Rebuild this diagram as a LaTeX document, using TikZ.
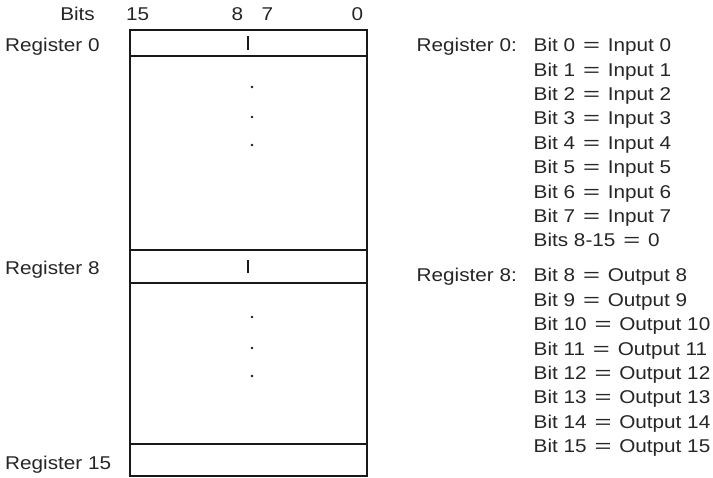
\documentclass[tikz,border=0pt]{standalone}
\usepackage{fontspec}
\usepackage{graphicx}
\setmainfont{Liberation Sans}
% slightly widened sans text
\newcommand{\wide}[1]{\scalebox{1.12}[1]{#1}}
\newcommand{\eqsign}{\hspace{7pt}\scalebox{1.4}[1]{=}\hspace{7pt}}
\begin{document}
\begin{tikzpicture}[x=1pt,y=-1pt,
  txt/.style={inner sep=0pt,font=\fontsize{18.5}{24}\selectfont,text=black!85},
  frame/.style={line width=1.6pt,black!90},
  bitsep/.style={line width=1.4pt,black!90},
  dotmark/.style={fill=black!90,draw=none}]
\useasboundingbox (0,0) rectangle (713,478);

% register column
\coordinate (tl) at (130,30);
\coordinate (br) at (367,476);
\draw[frame] (tl) rectangle (br);
\foreach \y/\n in {56/a,250/b,283/c,444/d}{
  \coordinate (\n L) at (130,\y);
  \coordinate (\n R) at (367,\y);
  \draw[frame] (\n L) -- (\n R);
}

% byte boundary marks
\coordinate (m0t) at (248,36.5); \coordinate (m0b) at (248,50);
\coordinate (m8t) at (248,260.5); \coordinate (m8b) at (248,273.5);
\draw[bitsep] (m0t) -- (m0b);
\draw[bitsep] (m8t) -- (m8b);

% ellipsis dots
\foreach \y in {87,117,145,317,348,376}
  \fill[dotmark] (252,\y) circle (1.3);

% bit numbers
\node[txt,anchor=base east] (bits) at (95,20.7) {\wide{Bits}};
\node[txt,anchor=base west] (b15) at (126,20.7) {\wide{15}};
\node[txt,anchor=base west] (b8) at (231.5,20.7) {\wide{8}};
\node[txt,anchor=base west] (b7) at (261.5,20.7) {\wide{7}};
\node[txt,anchor=base west] (b0) at (351.5,20.7) {\wide{0}};

% register names
\node[txt,anchor=base west] (reg0) at (5,52) {\wide{Register 0}};
\node[txt,anchor=base west] (reg8) at (5,275) {\wide{Register 8}};
\node[txt,anchor=base west] (reg15) at (5,470) {\wide{Register 15}};

% register 0 description
\node[txt,anchor=base west] (d0) at (416.5,51.7) {\wide{Register 0:}};
\foreach \i in {0,...,7}
  \node[txt,anchor=base west] (in\i) at (533.5,51.7+24.4*\i) {\wide{Bit \i\eqsign Input \i}};
\node[txt,anchor=base west] (in8) at (533.5,246.5) {\wide{Bits 8-15\eqsign 0}};

% register 8 description
\node[txt,anchor=base west] (d8) at (416.5,281.9) {\wide{Register 8:}};
\foreach \i in {8,...,15}
  \node[txt,anchor=base west] (out\i) at (533.5,281.9+24.4*\i-195.2) {\wide{Bit \i\eqsign Output \i}};
\end{tikzpicture}
\end{document}
